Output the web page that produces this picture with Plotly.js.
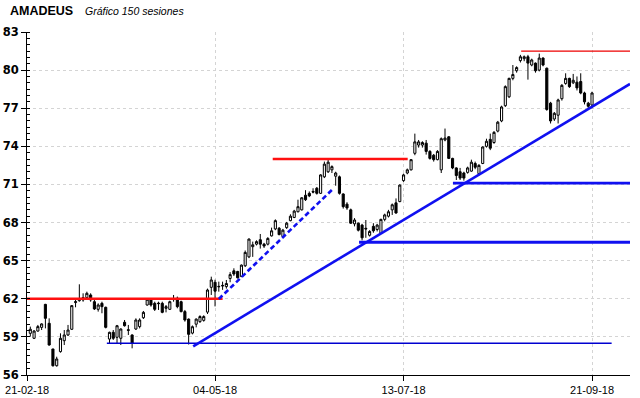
<!DOCTYPE html>
<html>
<head>
<meta charset="utf-8">
<script src="https://cdn.plot.ly/plotly-3.0.1.min.js"></script>
<style>
html,body{margin:0;padding:0;background:#fff;}
#chart{width:640px;height:398px;}
</style>
</head>
<body>
<div id="chart"></div>
<script>
// ---- Candle data (150 sessions, 21-02-18 .. 21-09-18) ----
const open = [
59.28,58.89,59.46,59.75,61.56,60.07,58.05,56.73,57.84,58.70,
59.15,59.60,61.70,61.85,62.09,62.09,62.30,61.77,61.17,61.64,
61.33,58.83,59.36,58.97,58.89,60.15,59.56,59.15,59.62,59.81,
60.51,61.51,61.96,61.64,61.66,61.64,61.25,61.17,61.98,62.04,
61.77,60.99,60.40,59.30,60.00,60.20,60.30,60.95,62.90,63.30,
62.98,63.00,62.96,63.60,64.20,64.15,63.75,64.60,65.30,66.10,
66.30,66.65,66.30,66.30,66.95,67.50,67.55,66.90,67.60,68.15,
68.40,68.85,69.00,70.15,70.30,70.45,70.70,70.30,71.60,72.00,
72.15,71.65,71.60,70.25,69.45,69.00,67.90,67.95,67.80,67.55,
67.00,67.70,67.45,67.15,68.25,68.50,69.00,69.55,69.65,71.30,
71.90,72.15,73.45,74.10,74.10,74.25,73.60,73.30,72.95,72.15,
74.50,74.75,73.05,72.30,72.00,71.90,71.95,72.05,72.65,71.85,
72.65,74.00,74.55,74.30,75.20,76.00,77.20,77.90,79.35,79.95,
80.75,80.90,81.05,80.40,80.55,80.00,80.95,80.15,77.40,76.15,
76.45,77.75,78.95,79.35,79.00,79.05,79.10,78.20,77.40,77.25
];
const high = [
59.81,59.54,59.94,60.07,61.60,60.46,58.05,57.44,59.28,59.54,
59.94,61.51,62.04,63.14,62.43,62.56,62.43,61.91,61.64,61.77,
61.38,59.41,59.54,59.94,59.67,60.33,59.94,59.20,60.46,60.46,
61.04,62.04,62.04,61.77,61.77,61.77,61.51,61.85,62.30,62.17,
61.85,61.12,60.45,59.90,60.45,60.70,60.70,62.80,63.74,63.50,
63.35,63.35,63.48,64.10,64.40,64.20,64.70,65.80,66.75,66.50,
66.60,67.10,66.40,66.85,67.60,68.25,67.65,67.50,68.05,68.65,
69.00,69.80,70.00,70.55,70.45,70.70,70.80,71.80,72.80,73.00,
72.50,72.00,71.70,70.30,69.60,69.10,68.35,68.00,67.90,68.20,
67.40,67.95,67.90,68.30,68.70,69.00,69.50,69.90,71.00,71.85,
72.25,73.00,75.00,74.50,74.40,74.50,73.70,73.40,73.70,74.70,
75.40,74.80,73.10,72.35,72.30,72.00,72.40,72.95,72.80,72.60,
74.00,74.60,75.00,75.20,76.00,77.20,78.80,79.40,80.40,80.30,
81.20,81.15,81.20,80.90,80.60,81.30,81.00,80.20,77.50,76.70,
77.75,78.90,79.75,79.40,79.70,79.50,79.75,78.30,77.50,78.30
];
const low = [
59.02,58.83,59.41,59.54,59.67,58.31,56.66,56.66,57.76,58.36,
59.07,59.54,61.33,61.77,61.77,62.04,61.77,61.12,60.99,60.86,
59.67,58.44,58.76,58.49,58.36,59.81,59.15,58.10,59.54,59.67,
60.41,61.46,61.38,61.04,61.12,60.86,60.93,61.12,61.77,61.25,
60.93,60.20,58.40,59.20,59.75,60.10,60.20,60.80,62.30,61.40,
62.56,62.70,62.80,63.30,63.80,63.60,63.70,64.50,65.20,65.30,
66.20,65.95,66.00,66.20,66.90,67.40,67.00,66.80,67.50,68.10,
68.35,68.80,68.95,69.70,70.00,70.30,70.20,70.25,71.50,71.90,
71.90,70.90,70.20,69.10,69.00,67.90,67.70,67.30,66.60,66.80,
66.90,67.20,67.30,67.10,68.10,68.40,68.60,68.70,69.60,71.20,
71.80,72.10,73.30,73.90,73.90,73.35,72.95,72.80,72.90,71.90,
74.40,73.00,72.20,71.35,71.35,71.30,71.85,72.00,72.20,71.70,
72.60,73.90,73.70,74.20,75.10,75.90,77.10,77.80,79.20,79.80,
80.60,80.70,79.25,80.30,79.80,79.90,80.30,76.80,75.80,76.00,
75.80,77.60,78.85,78.60,78.90,78.40,78.10,77.30,77.00,77.00
];
const close = [
59.60,59.46,59.81,60.02,60.46,58.36,56.73,57.26,58.89,59.15,
59.54,61.46,61.77,61.98,61.91,62.43,61.91,61.20,61.51,61.38,
59.75,59.36,58.89,59.88,59.62,59.88,59.52,58.49,60.33,60.33,
60.93,61.96,61.51,61.17,61.62,60.93,61.38,61.77,61.94,61.38,
60.99,60.33,59.20,59.80,60.40,60.60,60.60,62.69,63.48,62.60,
62.95,63.05,63.20,63.90,63.95,63.65,64.65,65.65,66.70,66.25,
66.50,66.30,66.15,66.75,67.35,68.15,67.05,67.40,67.95,68.50,
68.90,69.25,69.95,69.80,70.10,70.40,70.30,71.75,72.60,72.75,
72.40,71.90,70.30,69.25,69.15,67.95,68.20,67.40,66.80,67.50,
67.30,67.35,67.80,68.25,68.60,68.85,69.40,68.75,70.95,71.75,
72.15,72.95,74.35,74.35,74.30,73.60,73.05,72.95,73.60,74.60,
74.65,73.05,72.30,71.70,71.50,71.50,72.30,72.75,72.35,72.50,
73.95,74.40,73.85,75.10,75.90,77.10,78.70,79.35,79.65,80.20,
81.05,81.05,80.55,80.80,79.95,80.95,80.40,76.90,76.00,76.60,
77.65,78.80,79.35,78.70,79.20,78.60,78.20,77.50,77.15,78.20
];

// ---- Axis labels ----
const tickPos = [-0.85, 49, 99, 149];
const tickLabels = ['21-02-18', '04-05-18', '13-07-18', '21-09-18'];
const xRange = [-0.88, 159.07];
const yRange = [56, 83];

// ---- Drawn study lines (session index, price) ----
const redLowX = [-0.88, 51.0],   redLowY = [62.0, 62.0];
const redMidX = [64.3, 100.1],   redMidY = [73.0, 73.0];
const redTopX = [130.2, 159.07], redTopY = [81.5, 81.5];
const blueBaseX = [20.3, 154.2], blueBaseY = [58.5, 58.5];
const blueMidX = [87.2, 159.07], blueMidY = [66.45, 66.45];
const blueHighX = [112.1, 159.07], blueHighY = [71.1, 71.1];
const trendX = [43.2, 159.07],   trendY = [58.26, 78.91];
const dashX = [50.0, 80.3],      dashY = [61.98, 70.65];

const idx = open.map((_, i) => i);

const candles = {
  type: 'candlestick',
  x: idx, open: open, high: high, low: low, close: close,
  increasing: {line: {color: '#000000', width: 1}, fillcolor: '#ffffff'},
  decreasing: {line: {color: '#000000', width: 1}, fillcolor: '#000000'},
  whiskerwidth: 0,
  hoverinfo: 'skip'
};

function seg(x, y, color, width, dash) {
  return {type: 'scatter', mode: 'lines', x: x, y: y,
    line: {color: color, width: width, dash: dash || 'solid'},
    hoverinfo: 'skip'};
}

const traces = [
  candles,
  seg(blueBaseX, blueBaseY, '#0000d0', 1.3),
  seg(redTopX, redTopY, '#ee0000', 1.3),
  seg(redLowX, redLowY, '#ff1010', 2.6),
  seg(redMidX, redMidY, '#ff1010', 2.6),
  seg(blueMidX, blueMidY, '#1010f0', 2.8),
  seg(blueHighX, blueHighY, '#1010f0', 2.8),
  seg(trendX, trendY, '#1010f0', 2.6),
  seg(dashX, dashY, '#1010f0', 2.6, '5px,3px')
];

const layout = {
  width: 640, height: 398,
  margin: {l: 27, r: 10, t: 32, b: 23, pad: 0},
  paper_bgcolor: '#ffffff', plot_bgcolor: '#ffffff',
  showlegend: false, hovermode: false, dragmode: false,
  boxgap: 0.2,
  xaxis: {
    type: 'linear', range: xRange, fixedrange: true,
    rangeslider: {visible: false},
    tickmode: 'array', tickvals: tickPos, ticktext: tickLabels,
    ticks: 'outside', ticklen: 5, tickcolor: '#000', tickwidth: 1,
    showline: true, linecolor: '#000', linewidth: 1,
    showgrid: true, gridcolor: '#d4d4d4', griddash: 'dot', gridwidth: 1,
    zeroline: false,
    tickfont: {family: 'Liberation Sans, Arial, sans-serif', size: 11, color: '#000'}
  },
  yaxis: {
    range: yRange, fixedrange: true,
    tick0: 56, dtick: 3,
    ticks: 'outside', ticklen: 5, tickcolor: '#000', tickwidth: 1,
    showline: true, linecolor: '#000', linewidth: 1,
    showgrid: true, gridcolor: '#d4d4d4', griddash: 'dot', gridwidth: 1,
    zeroline: false,
    minor: {dtick: 0.5, ticks: 'inside', ticklen: 3, tickcolor: '#000', tickwidth: 1, showgrid: false},
    tickfont: {family: 'DejaVu Sans, Verdana, sans-serif', size: 11.5, color: '#000', weight: 'bold'}
  },
  annotations: [
    {xref: 'paper', yref: 'paper', x: (8 - 27) / 603, y: (375 - 11) / 343,
     xanchor: 'left', yanchor: 'middle', showarrow: false,
     text: '<b>AMADEUS</b>',
     font: {family: 'Liberation Sans, Arial, sans-serif', size: 12.5, color: '#000'}},
    {xref: 'paper', yref: 'paper', x: (83 - 27) / 603, y: (375 - 11) / 343,
     xanchor: 'left', yanchor: 'middle', showarrow: false,
     text: '<i>Gráfico 150 sesiones</i>',
     font: {family: 'Liberation Sans, Arial, sans-serif', size: 10.5, color: '#000'}}
  ]
};

Plotly.newPlot('chart', traces, layout, {staticPlot: true, displayModeBar: false});
</script>
</body>
</html>
